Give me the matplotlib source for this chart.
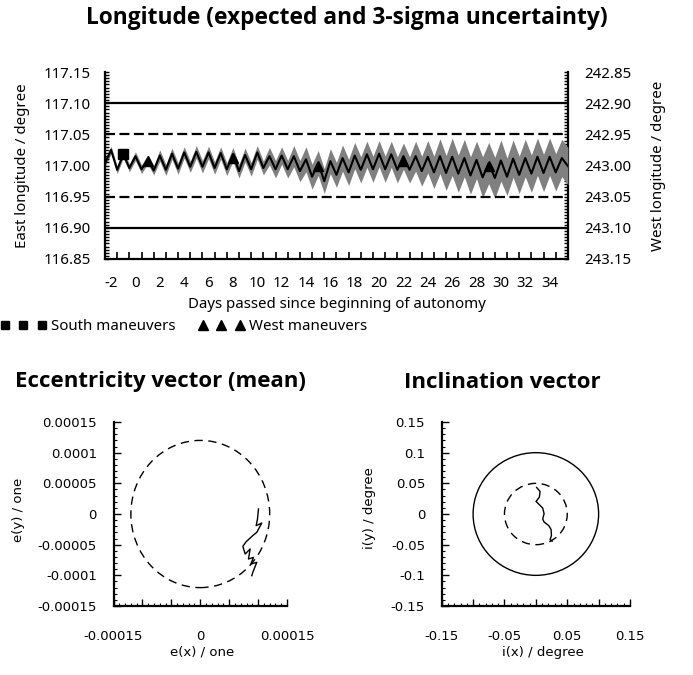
import numpy as np
import matplotlib.pyplot as plt
from matplotlib.lines import Line2D
from matplotlib.patches import Circle
from matplotlib.ticker import MultipleLocator, FixedLocator, FuncFormatter, FormatStrFormatter

plt.rcParams['axes.unicode_minus'] = False

# czas [dni], co pol dnia (maksima w pelnych dniach)
dni = np.arange(-2.5, 35.51, 0.5)

# dlugosc wschodnia [deg], wartosc oczekiwana
lon_east = [117.004, 117.025, 116.993, 117.018, 116.996, 117.015, 116.994, 117.010,
            116.992, 117.016, 116.993, 117.019, 116.995, 117.021, 116.998, 117.022,
            116.998, 117.021, 116.996, 117.020, 116.994, 117.018, 116.991, 117.017,
            116.994, 117.021, 116.996, 117.015, 116.994, 117.016, 116.994, 117.015,
            116.991, 117.010, 116.982, 117.004, 116.975, 117.007, 116.985, 117.012,
            116.989, 117.016, 116.993, 117.018, 116.994, 117.019, 116.994, 117.018,
            116.993, 117.015, 116.993, 117.015, 116.991, 117.014, 116.989, 117.015,
            116.988, 117.014, 116.987, 117.012, 116.984, 117.009, 116.981, 117.004,
            116.980, 117.008, 116.982, 117.011, 116.985, 117.012, 116.987, 117.014,
            116.988, 117.014, 116.989, 117.012, 116.999]

# 3-sigma [deg]
sigma3 = [0.006, 0.006, 0.006, 0.006, 0.006, 0.007, 0.007, 0.007,
          0.007, 0.009, 0.009, 0.009, 0.009, 0.009, 0.009, 0.010,
          0.010, 0.010, 0.010, 0.010, 0.010, 0.011, 0.011, 0.011,
          0.011, 0.011, 0.011, 0.014, 0.014, 0.014, 0.014, 0.017,
          0.017, 0.020, 0.020, 0.020, 0.020, 0.020, 0.020, 0.021,
          0.021, 0.021, 0.021, 0.021, 0.021, 0.021, 0.021, 0.021,
          0.021, 0.021, 0.021, 0.024, 0.024, 0.026, 0.026, 0.028,
          0.028, 0.030, 0.030, 0.030, 0.030, 0.030, 0.033, 0.033,
          0.033, 0.033, 0.030, 0.030, 0.030, 0.030, 0.030, 0.030,
          0.030, 0.030, 0.030, 0.030, 0.030]

# manewry
south_t = [-1.0]
south_lon = [117.018]
west_t = [1, 8, 15, 22, 29]
west_lon = [117.007, 117.012, 117.000, 117.008, 117.000]

lon_lim = [116.90, 117.10]     # granice (linia ciagla)
lon_box = [116.95, 117.05]     # okno utrzymania (przerywana)

# wektor mimosrodu (sredni)
ex = [1.006e-4, 0.989e-4, 0.966e-4, 1.063e-4, 0.977e-4, 0.920e-4, 0.793e-4, 0.736e-4,
      0.776e-4, 0.862e-4, 0.833e-4, 0.920e-4, 0.874e-4, 0.977e-4, 0.908e-4, 0.891e-4]
ey = [0.82e-5, -0.82e-5, -1.90e-5, -1.47e-5, -2.99e-5, -3.42e-5, -4.51e-5, -5.27e-5,
      -6.52e-5, -5.71e-5, -7.34e-5, -7.07e-5, -8.15e-5, -7.88e-5, -9.51e-5, -10.05e-5]
e_box = 0.00012

# wektor inklinacji [deg]
ix = [0.0013, 0.0067, 0.0056, 0.0003, 0.0040, 0.0109, 0.0131, 0.0109,
      0.0131, 0.0205, 0.0243, 0.0248, 0.0227, 0.0259]
iy = [0.0432, 0.0368, 0.0276, 0.0205, 0.0168, 0.0097, 0.0005, -0.0081,
      -0.0130, -0.0189, -0.0254, -0.0351, -0.0416, -0.0443]
i_box = 0.05
i_lim = 0.10

lon = np.array(lon_east)
sig = np.array(sigma3)

top_font = 'Noto Sans'
low_font = 'DejaVu Sans'
title_font = 'Open Sans'
fs = 10.8

fig = plt.figure(figsize=(6.93, 6.75), dpi=100)

# ====================== dlugosc =========================
ax = fig.add_axes([0.1515, 0.6163, 0.668, 0.277])
ax.fill_between(dni, lon - sig, lon + sig, color='#808080', lw=0)
ax.plot(dni, lon, color='k', lw=1.5, solid_joinstyle='round')
for v in lon_lim:
    ax.axhline(v, color='k', lw=1.6)
for v in lon_box:
    ax.axhline(v, color='k', lw=1.6, dashes=(4.5, 2))
ax.plot(south_t, south_lon, 's', color='k', ms=6.5)
ax.plot(west_t, west_lon, '^', color='k', ms=7.5)

ax.set_xlim(-2.5, 35.5)
ax.set_ylim(116.85, 117.15)
ax.spines['top'].set_visible(False)
ax.spines['right'].set_visible(False)
for s in ['left', 'bottom']:
    ax.spines[s].set_linewidth(1.6)

ax.xaxis.set_major_locator(FixedLocator(np.arange(-2, 35, 2)))
ax.xaxis.set_minor_locator(FixedLocator(np.arange(-1.5, 35, 1.0)))
ax.tick_params(axis='x', which='major', length=0, pad=12)
ax.tick_params(axis='x', which='minor', direction='in', length=5, width=1.2)
ax.yaxis.set_major_locator(MultipleLocator(0.05))
ax.yaxis.set_minor_locator(MultipleLocator(0.005))
ax.yaxis.set_major_formatter(FormatStrFormatter('%.2f'))
ax.tick_params(axis='y', which='both', direction='in', length=3, width=1, pad=10)
for lab in ax.get_xticklabels() + ax.get_yticklabels():
    lab.set_fontfamily(top_font)
    lab.set_fontsize(fs)

sec = ax.secondary_yaxis('right', functions=(lambda e: 360 - e, lambda w: 360 - w))
sec.yaxis.set_major_locator(MultipleLocator(0.05))
sec.yaxis.set_minor_locator(MultipleLocator(0.005))
sec.yaxis.set_major_formatter(FormatStrFormatter('%.2f'))
sec.tick_params(axis='y', which='both', direction='in', length=3, width=1, pad=12)
sec.spines['right'].set_linewidth(1.6)
for lab in sec.get_yticklabels():
    lab.set_fontfamily(top_font)
    lab.set_fontsize(fs)

ax.set_xlabel('Days passed since beginning of autonomy', fontfamily=top_font, fontsize=fs, va='center')
ax.xaxis.set_label_coords(0.5, -0.246)
ax.set_ylabel('East longitude / degree', fontfamily=top_font, fontsize=fs, va='center')
ax.yaxis.set_label_coords(-0.179, 0.5)
fig.text(659 / 693, 1 - 166 / 675, 'West longitude / degree', rotation=90,
         ha='center', va='center', fontfamily=top_font, fontsize=fs)

fig.text(0.5, 1 - 18 / 675, 'Longitude (expected and 3-sigma uncertainty)',
         ha='center', va='center', fontfamily=title_font, fontweight='bold', fontsize=16.4)

handles = [Line2D([], [], marker='s', color='k', ls='none', ms=6),
           Line2D([], [], marker='^', color='k', ls='none', ms=7)]
fig.legend(handles, ['South maneuvers', 'West maneuvers'], loc='center left',
           bbox_to_anchor=(0.0, 1 - 327 / 675), ncol=2, frameon=False, numpoints=3,
           handlelength=3.1, handletextpad=0.3, columnspacing=1.5, borderaxespad=0,
           borderpad=0, prop={'family': top_font, 'size': fs})


def short_num(v, pos=None):
    s = f'{v:.5f}'.rstrip('0').rstrip('.')
    return '0' if s in ('-0', '0', '') else s


def style_low(a, major, minor):
    a.spines['top'].set_visible(False)
    a.spines['right'].set_visible(False)
    for s in ['left', 'bottom']:
        a.spines[s].set_linewidth(1.6)
    for axis in [a.xaxis, a.yaxis]:
        axis.set_major_locator(MultipleLocator(major))
        axis.set_minor_locator(MultipleLocator(minor))
    a.yaxis.set_major_formatter(FuncFormatter(short_num))
    a.tick_params(which='major', direction='in', length=5, width=1)
    a.tick_params(which='minor', direction='in', length=2.5, width=0.8)
    a.tick_params(axis='y', pad=12)
    a.tick_params(axis='x', pad=17)
    for lab in a.get_xticklabels() + a.get_yticklabels():
        lab.set_fontfamily(low_font)
        lab.set_fontsize(9.5)


# ====================== mimosrod =========================
ae = fig.add_axes([0.1638, 0.1022, 0.2504, 0.2726])
ae.add_patch(Circle((0, 0), e_box, fill=False, color='k', lw=1, ls=(0, (6, 4))))
ae.plot(ex, ey, color='k', lw=1)
ae.set_xlim(-0.00015, 0.00015)
ae.set_ylim(-0.00015, 0.00015)
style_low(ae, 0.00005, 0.00001)
ae.xaxis.set_major_formatter(FuncFormatter(
    lambda v, p: short_num(v) if abs(round(v / 0.00015) * 0.00015 - v) < 1e-9 else ''))
ae.set_xlabel('e(x) / one', fontfamily=low_font, fontsize=9.5, va='center')
ae.xaxis.set_label_coords(0.51, -0.25)
ae.set_ylabel('e(y) / one', fontfamily=low_font, fontsize=9.5, va='center')
ae.yaxis.set_label_coords(-0.55, 0.524)
fig.text(160 / 693, 1 - 382 / 675, 'Eccentricity vector (mean)', ha='center', va='center',
         fontfamily=title_font, fontweight='bold', fontsize=16)

# ====================== inklinacja =========================
ai = fig.add_axes([0.6374, 0.1022, 0.2717, 0.2726])
ai.add_patch(Circle((0, 0), i_lim, fill=False, color='k', lw=1))
ai.add_patch(Circle((0, 0), i_box, fill=False, color='k', lw=1, ls=(0, (6, 4))))
ai.plot(ix, iy, color='k', lw=1)
ai.set_xlim(-0.15, 0.15)
ai.set_ylim(-0.15, 0.15)
style_low(ai, 0.05, 0.01)
ai.xaxis.set_major_formatter(FuncFormatter(
    lambda v, p: short_num(v) if round(v / 0.05) % 2 != 0 else ''))
ai.set_xlabel('i(x) / degree', fontfamily=low_font, fontsize=9.5, va='center')
ai.xaxis.set_label_coords(0.535, -0.25)
ai.set_ylabel('i(y) / degree', fontfamily=low_font, fontsize=9.5, va='center')
ai.yaxis.set_label_coords(-0.386, 0.53)
fig.text(502 / 693, 1 - 382 / 675, 'Inclination vector', ha='center', va='center',
         fontfamily=title_font, fontweight='bold', fontsize=16)

fig.savefig('out.png', dpi=100)
